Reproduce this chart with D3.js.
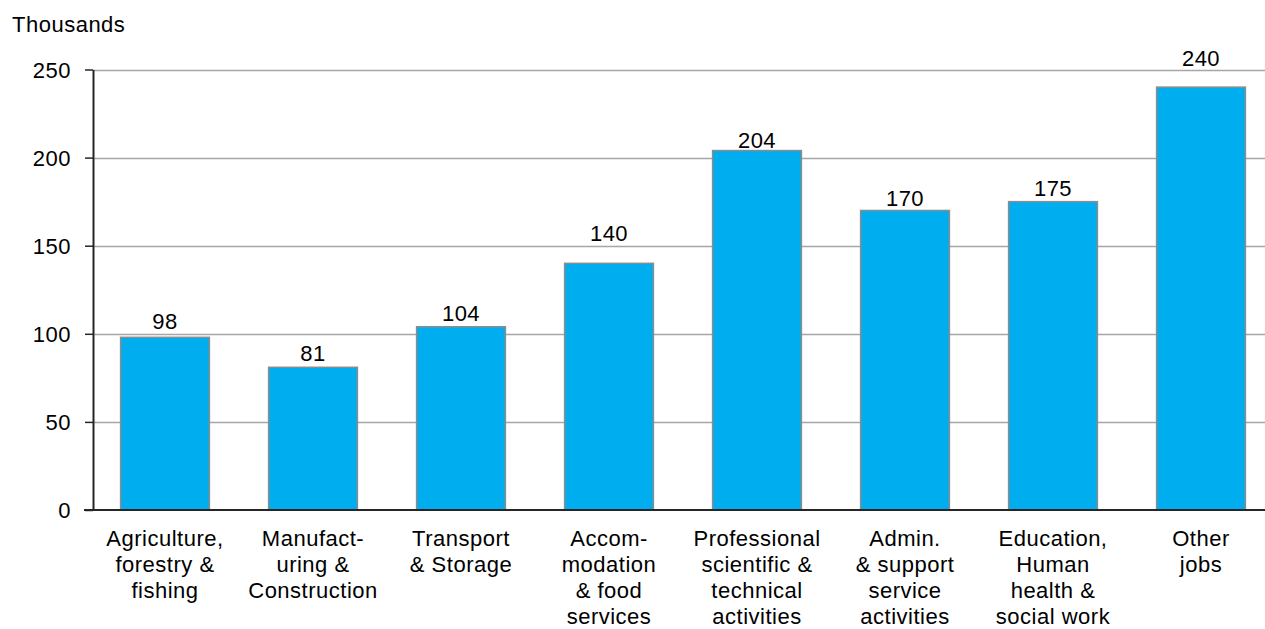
<!DOCTYPE html>
<html>
<head>
<meta charset="utf-8">
<script src="https://cdn.jsdelivr.net/npm/d3@7/dist/d3.min.js"></script>
<style>
  html, body { margin: 0; padding: 0; background: #fff; }
  svg { display: block; }
  text { font-family: "Liberation Sans", Arial, sans-serif; fill: #000; letter-spacing: 0.5px; }
</style>
</head>
<body>
<svg id="chart" width="1265" height="629"></svg>
<script>
// Jobs by sector, in thousands
const categories = [
  ["Agriculture,", "forestry &", "fishing"],
  ["Manufact-", "uring &", "Construction"],
  ["Transport", "& Storage"],
  ["Accom-", "modation", "& food", "services"],
  ["Professional", "scientific &", "technical", "activities"],
  ["Admin.", "& support", "service", "activities"],
  ["Education,", "Human", "health &", "social work"],
  ["Other", "jobs"]
];
const values = [98, 81, 104, 140, 204, 170, 175, 240];
const yTicks = [0, 50, 100, 150, 200, 250];
const unitLabel = "Thousands";

// Distance (px) from each bar top to its value label baseline,
// raised where a label would otherwise sit on a gridline
const labelLift = [8.5, 6, 5.5, 22.5, 2.5, 4, 5.5, 21.5];

const svg = d3.select("#chart");
const W = 1265, H = 629;
const axisX = 93, plotTop = 69.5, plotBottom = 510;
const fontSize = "22px";

const x = d3.scaleBand()
  .domain(d3.range(values.length))
  .range([91, 1275])
  .paddingInner(0.4)
  .paddingOuter(0.2);

const y = d3.scaleLinear().domain([0, 250]).range([plotBottom, plotTop]);

// Horizontal gridlines
svg.append("g")
  .selectAll("line")
  .data(yTicks.filter(d => d > 0))
  .join("line")
  .attr("x1", axisX).attr("x2", W)
  .attr("y1", d => Math.round(y(d)) + 0.5).attr("y2", d => Math.round(y(d)) + 0.5)
  .attr("stroke", "#a6a6a6").attr("stroke-width", 1.5);

// Y axis with tick labels
const yAxis = d3.axisLeft(y).tickValues(yTicks).tickSize(8).tickPadding(14).tickSizeOuter(0);
const gy = svg.append("g").attr("transform", `translate(${axisX},0)`).call(yAxis);
gy.select(".domain").attr("stroke", "#262626").attr("stroke-width", 2);
gy.selectAll(".tick line").attr("stroke", "#262626").attr("stroke-width", 1.5);
gy.selectAll(".tick text")
  .style("font-family", "'Liberation Sans', Arial, sans-serif")
  .style("font-size", fontSize).attr("fill", "#000").attr("dy", "0.36em");

// Bars
svg.append("g")
  .selectAll("rect")
  .data(values)
  .join("rect")
  .attr("x", (d, i) => x(i))
  .attr("width", x.bandwidth())
  .attr("y", d => y(d))
  .attr("height", d => y(0) - y(d))
  .attr("fill", "#00aeef")
  .attr("stroke", "#8c8c8c")
  .attr("stroke-width", 1.5);

// Value labels above bars
svg.append("g")
  .selectAll("text")
  .data(values)
  .join("text")
  .attr("x", (d, i) => x(i) + x.bandwidth() / 2)
  .attr("y", (d, i) => y(d) - labelLift[i])
  .attr("text-anchor", "middle")
  .style("font-size", fontSize)
  .text(d => d);

// Category axis line
svg.append("line")
  .attr("x1", axisX - 9).attr("x2", W)
  .attr("y1", y(0)).attr("y2", y(0))
  .attr("stroke", "#262626").attr("stroke-width", 2);

// Multi-line category labels
const cat = svg.append("g")
  .selectAll("text")
  .data(categories)
  .join("text")
  .attr("text-anchor", "middle")
  .style("font-size", fontSize)
  .attr("transform", (d, i) => `translate(${x(i) + x.bandwidth() / 2},${y(0) + 36})`);
cat.selectAll("tspan")
  .data(d => d)
  .join("tspan")
  .attr("x", 0)
  .attr("y", (d, j) => j * 26)
  .text(d => d);

// Unit label
svg.append("text")
  .attr("x", 12).attr("y", 31.5)
  .style("font-size", fontSize)
  .text(unitLabel);
</script>
</body>
</html>
